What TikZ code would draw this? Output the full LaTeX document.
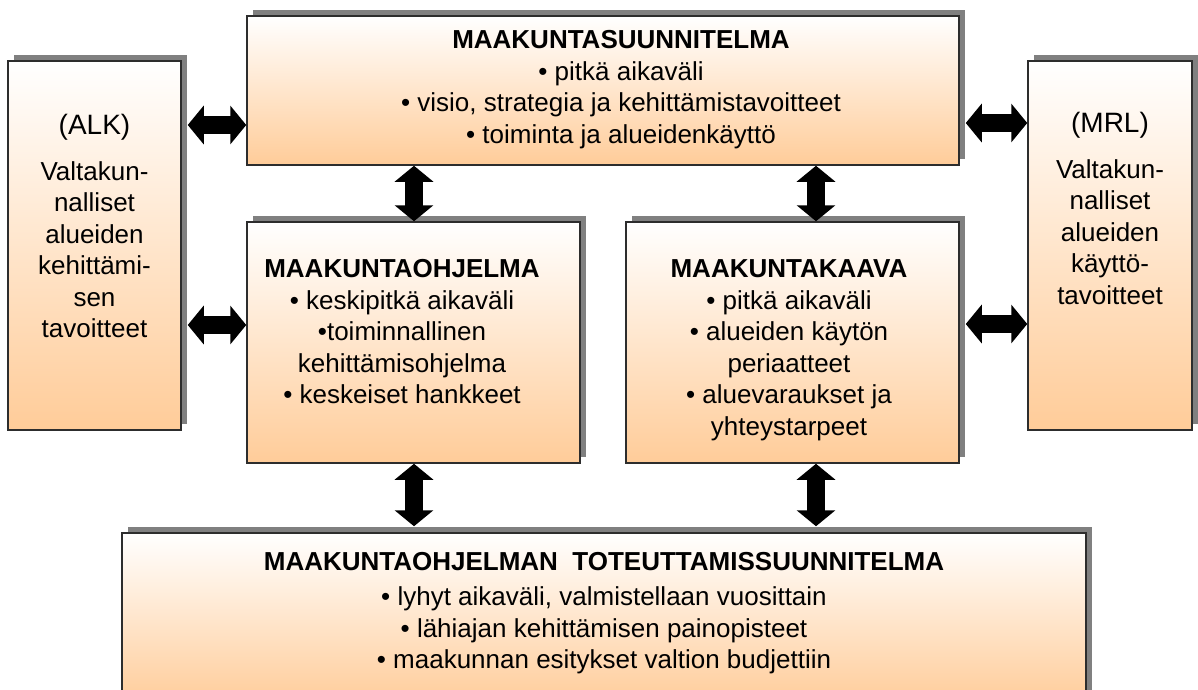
\documentclass[tikz,border=0pt]{standalone}
\usepackage{fontspec}
\setmainfont{Liberation Sans}
\usetikzlibrary{shadows,arrows.meta}
\definecolor{peach}{RGB}{255,204,153}
\definecolor{shadowgray}{RGB}{128,128,128}
\definecolor{edgegray}{RGB}{45,45,45}
\begin{document}
\begin{tikzpicture}[x=1pt,y=-1pt,
  box/.style={draw=edgegray,line width=1.5pt,top color=white,bottom color=peach,inner sep=0pt,
    drop shadow={shadow xshift=6pt,shadow yshift=6pt,fill=shadowgray,opacity=1}},
  txt/.style={align=center,inner sep=0pt,anchor=north,font=\fontsize{26}{31.5}\selectfont},
  dbl/.style={line width=18pt,{Triangle[length=16pt,width=38pt]}-{Triangle[length=16pt,width=38pt]}}]
\useasboundingbox (0,0) rectangle (1198,689);
% boxes
\node[box,minimum width=173pt,minimum height=369pt] (alk) at (94.5,245.5) {};
\node[box,minimum width=712pt,minimum height=149pt] (top) at (603,90.5) {};
\node[box,minimum width=164pt,minimum height=369pt] (mrl) at (1110,245.5) {};
\node[box,minimum width=333pt,minimum height=241pt] (ohj) at (413.5,342.5) {};
\node[box,minimum width=333pt,minimum height=241pt] (kaava) at (792.5,342.5) {};
\node[box,minimum width=964pt,minimum height=172pt] (bot) at (604,619) {};
% texts
\node[txt] (toptxt) at (621,30.5) {\textbf{MAAKUNTASUUNNITELMA}\\• pitkä aikaväli\\• visio, strategia ja kehittämistavoitteet\\• toiminta ja alueidenkäyttö};
\node[txt] (ohjtxt) at (402,259.5) {\textbf{MAAKUNTAOHJELMA}\\• keskipitkä aikaväli\\•toiminnallinen\\kehittämisohjelma\\• keskeiset hankkeet};
\node[txt] (kaavatxt) at (789,259.5) {\textbf{MAAKUNTAKAAVA}\\• pitkä aikaväli\\• alueiden käytön\\periaatteet\\• aluevaraukset ja\\yhteystarpeet};
\node[txt] (bottxt) at (604,552.5) {\textbf{MAAKUNTAOHJELMAN\ \ TOTEUTTAMISSUUNNITELMA}\\[3.5pt]• lyhyt aikaväli, valmistellaan vuosittain\\• lähiajan kehittämisen painopisteet\\• maakunnan esitykset valtion budjettiin};
\node[txt] (alktxt) at (94.5,114) {{\fontsize{28}{31.5}\selectfont (ALK)}\\[14.5pt]Valtakun-\\nalliset\\alueiden\\kehittämi-\\sen\\tavoitteet};
\node[txt] (mrltxt) at (1110,112) {{\fontsize{28}{31.5}\selectfont (MRL)}\\[14.5pt]Valtakun-\\nalliset\\alueiden\\käyttö-\\tavoitteet};
% arrows
\draw[dbl] ([xshift=6pt]alk.east |- 0,125) -- (top.west |- 0,125);
\draw[dbl] ([xshift=6pt]alk.east |- 0,325) -- (ohj.west |- 0,325);
\draw[dbl] ([xshift=6pt]top.east |- 0,123) -- (mrl.west |- 0,123);
\draw[dbl] ([xshift=6pt]kaava.east |- 0,324) -- (mrl.west |- 0,324);
\draw[dbl] (top.south -| 414,0) -- (ohj.north -| 414,0);
\draw[dbl] (top.south -| 816,0) -- (kaava.north -| 816,0);
\draw[dbl] (ohj.south -| 414,0) -- ([yshift=6pt]bot.north -| 414,0);
\draw[dbl] (kaava.south -| 816,0) -- ([yshift=6pt]bot.north -| 816,0);
\end{tikzpicture}
\end{document}
